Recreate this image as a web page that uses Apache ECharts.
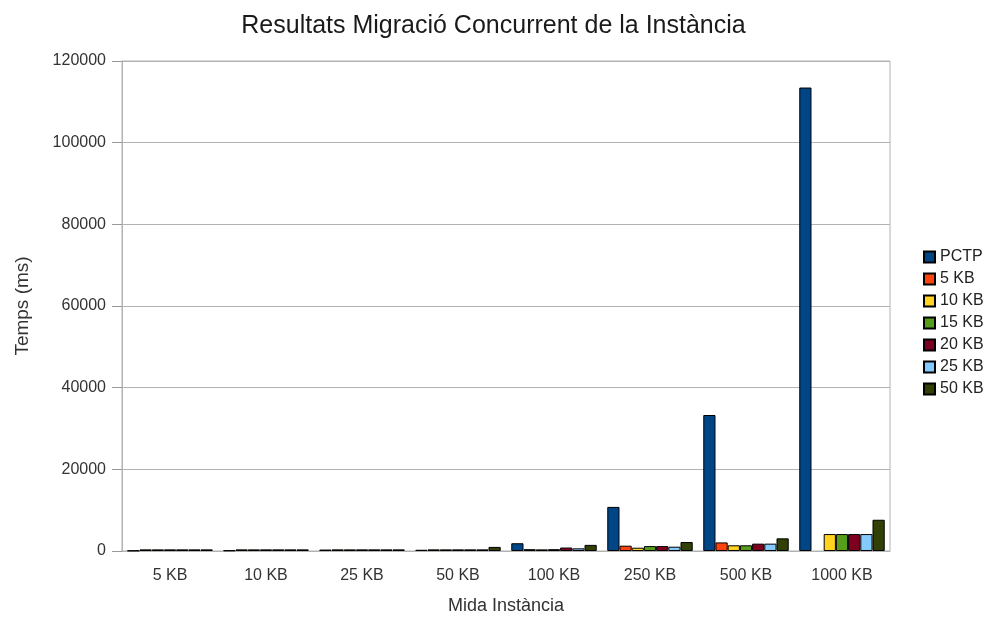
<!DOCTYPE html>
<html>
<head>
<meta charset="utf-8">
<script src="https://cdn.jsdelivr.net/npm/echarts@6/dist/echarts.min.js"></script>
<style>
html, body { margin: 0; padding: 0; background: #fff; }
#graph { width: 987px; height: 617px; }
</style>
</head>
<body>
<div id="graph"></div>
<script>
// categories on the x axis (instance size)
var categories = ['5 KB', '10 KB', '25 KB', '50 KB', '100 KB', '250 KB', '500 KB', '1000 KB'];

// series names and values (ms)
var seriesNames = ['PCTP', '5 KB', '10 KB', '15 KB', '20 KB', '25 KB', '50 KB'];
var pctp   = [100, 150, 350, 300, 1900, 10800, 33300, 113500];
var kb5    = [400, 400, 400, 400, 450, 1300, 2100, null];
var kb10   = [400, 400, 400, 400, 400, 800, 1400, 4150];
var kb15   = [400, 400, 400, 400, 450, 1200, 1400, 4150];
var kb20   = [400, 400, 400, 400, 850, 1200, 1800, 4150];
var kb25   = [400, 400, 400, 400, 650, 1050, 1800, 4150];
var kb50   = [400, 400, 400, 1000, 1500, 2200, 3100, 7650];

// colours of each series
var colors = ['#004586', '#ff420e', '#ffd320', '#579d1c', '#7e0021', '#83caff', '#314004'];

var allValues = [pctp, kb5, kb10, kb15, kb20, kb25, kb50];

var chart = echarts.init(document.getElementById('graph'));

var series = [];
for (var i = 0; i < seriesNames.length; i++) {
    series.push({
        name: seriesNames[i],
        type: 'bar',
        data: allValues[i],
        barGap: '0%',
        barCategoryGap: '11%',
        itemStyle: {
            color: colors[i],
            borderColor: '#000',
            borderWidth: 1
        }
    });
}

var option = {
    animation: false,
    textStyle: { fontFamily: 'Liberation Sans' },
    title: {
        text: 'Resultats Migració Concurrent de la Instància',
        left: 'center',
        top: 9,
        textStyle: { fontSize: 25, fontWeight: 'normal', color: '#1a1a1a', fontFamily: 'Liberation Sans' }
    },
    legend: {
        data: seriesNames,
        orient: 'vertical',
        left: 918,
        top: 244,
        icon: 'rect',
        itemWidth: 11,
        itemHeight: 11,
        itemGap: 6,
        textStyle: { fontSize: 16, color: '#222' }
    },
    grid: {
        left: 122,
        right: 97,
        top: 61,
        bottom: 66,
        outerBoundsMode: 'none',
        containLabel: false,
        show: true,
        borderColor: '#b3b3b3',
        borderWidth: 1
    },
    xAxis: {
        type: 'category',
        data: categories,
        name: 'Mida Instància',
        nameLocation: 'middle',
        nameGap: 46,
        nameTextStyle: { fontSize: 18, color: '#333' },
        axisLine: { lineStyle: { color: '#b3b3b3' } },
        axisTick: { alignWithLabel: true, length: 8, lineStyle: { color: '#b3b3b3' } },
        axisLabel: { fontSize: 16, color: '#333', margin: 17 }
    },
    yAxis: {
        type: 'value',
        min: 0,
        max: 120000,
        interval: 20000,
        name: 'Temps (ms)',
        nameLocation: 'middle',
        nameGap: 90,
        nameTextStyle: { fontSize: 19, color: '#333' },
        axisLine: { show: true, lineStyle: { color: '#b3b3b3' } },
        axisTick: { show: true, inside: false, length: 10, lineStyle: { color: '#999', width: 1 } },
        axisLabel: { fontSize: 16, color: '#333', margin: 16, formatter: function (v) { return String(v); } },
        splitLine: { lineStyle: { color: '#b3b3b3' } }
    },
    series: series
};

chart.setOption(option);
</script>
</body>
</html>
